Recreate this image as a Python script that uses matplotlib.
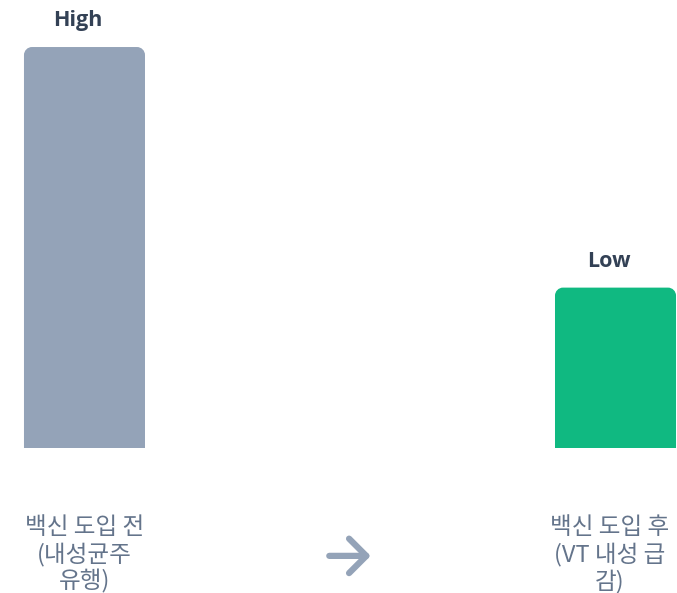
import matplotlib.pyplot as plt
from matplotlib.path import Path
from matplotlib.patches import PathPatch

plt.rcParams['font.family'] = ['Noto Sans CJK KR', 'DejaVu Sans']

categories = ['백신 도입 전\n(내성균주\n유행)', '백신 도입 후\n(VT 내성 급\n감)']
values = [100, 40]
value_labels = ['High', 'Low']
colors = ['#94A3B8', '#10B981']

fig = plt.figure(figsize=(6.77, 5.93), dpi=100)
ax = fig.add_axes([0, 0.2445, 1, 0.6762])
ax.set_xlim(-0.1591, 1.1158)
ax.set_ylim(0, 100)
ax.axis('off')

width = 0.2279
bars = ax.bar(range(len(values)), values, width=width, color=colors)


def round_top(rect, rx, ry):
    # replace a bar with a path that has rounded top corners
    x0, y0 = rect.get_x(), rect.get_y()
    x1, y1 = x0 + rect.get_width(), y0 + rect.get_height()
    k = 0.5523
    verts = [(x0, y0), (x0, y1 - ry),
             (x0, y1 - ry + k * ry), (x0 + rx - k * rx, y1), (x0 + rx, y1),
             (x1 - rx, y1),
             (x1 - rx + k * rx, y1), (x1, y1 - ry + k * ry), (x1, y1 - ry),
             (x1, y0), (x0, y0)]
    codes = [Path.MOVETO, Path.LINETO,
             Path.CURVE4, Path.CURVE4, Path.CURVE4,
             Path.LINETO,
             Path.CURVE4, Path.CURVE4, Path.CURVE4,
             Path.LINETO, Path.CLOSEPOLY]
    return PathPatch(Path(verts, codes), facecolor=rect.get_facecolor(),
                     edgecolor='none')


for rect in bars:
    ax.add_patch(round_top(rect, 8 / 531, 8 / 4.01))
    rect.set_visible(False)

for i, (v, lab) in enumerate(zip(values, value_labels)):
    ax.text(i - 0.0132, v + 6.5, lab, ha='center', va='center', fontsize=15.5,
            fontweight='bold', color='#334155', family=['Open Sans'])

label_x = [0.0, 0.9896]
for x, cat in zip(label_x, categories):
    ax.text(x, -26.6, cat, ha='center', va='center', fontsize=17,
            color='#64748B', linespacing=1.18)

# arrow between the two stages
ax.annotate('', xy=(0.539, -26.9), xytext=(0.461, -26.9),
            arrowprops=dict(arrowstyle='->,head_length=0.62,head_width=0.62',
                            lw=4.5, color='#94A3B8', capstyle='round',
                            joinstyle='round', shrinkA=0, shrinkB=0,
                            mutation_scale=20),
            annotation_clip=False)

fig.savefig('out.png', dpi=100, facecolor='white')
